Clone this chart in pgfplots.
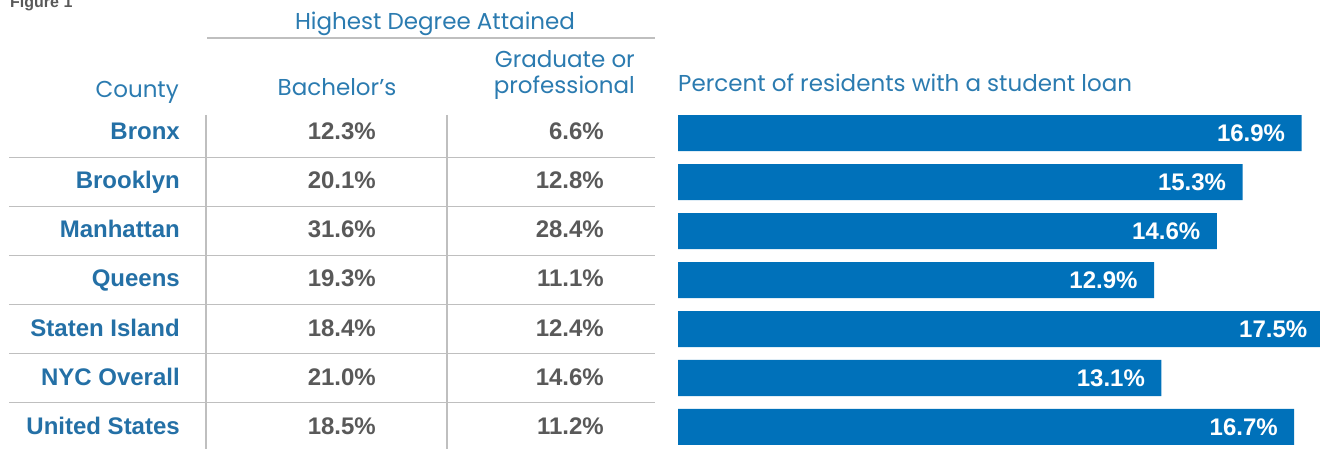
\documentclass[border=0pt]{standalone}
\usepackage{pgfplots}
\pgfplotsset{compat=1.18}
\usepackage{fontspec}
\setmainfont{Liberation Sans}
\newfontfamily\hdr{Poppins}
\definecolor{hblue}{HTML}{2B7BB0}
\definecolor{cblue}{HTML}{2470A6}
\definecolor{barblue}{HTML}{0071BA}
\definecolor{valgray}{HTML}{595959}
\definecolor{linegray}{HTML}{BFBFBF}
\begin{document}
\begin{tikzpicture}
\clip (0pt,0pt) rectangle (1320pt,-449pt);
% table rules
\draw[linegray, line width=1.5pt] (207pt,-38pt) -- (655pt,-38pt);
\foreach \y in {157.5,206.5,255.5,304.5,353.5,402.5}
  \draw[linegray, line width=1.5pt] (9pt,-\y pt) -- (655pt,-\y pt);
\draw[linegray, line width=1.5pt] (206pt,-115pt) -- (206pt,-449pt);
\draw[linegray, line width=1.5pt] (447pt,-115pt) -- (447pt,-449pt);
% headings
\node[anchor=base west, inner sep=0pt, text=valgray, font=\bfseries\fontsize{16}{19}\selectfont] at (10pt,-8pt) {Figure 1};
\node[anchor=base, inner sep=0pt, text=hblue, font=\hdr\fontsize{23}{27}\selectfont] at (435pt,-30pt) {Highest Degree Attained};
\node[anchor=base east, inner sep=0pt, text=hblue, font=\hdr\fontsize{23}{27}\selectfont] at (179pt,-98pt) {County};
\node[anchor=base, inner sep=0pt, text=hblue, font=\hdr\fontsize{23}{27}\selectfont] at (337pt,-96pt) {Bachelor’s};
\node[anchor=base east, inner sep=0pt, text=hblue, font=\hdr\fontsize{23}{27}\selectfont] at (635pt,-68pt) {Graduate or};
\node[anchor=base east, inner sep=0pt, text=hblue, font=\hdr\fontsize{23}{27}\selectfont] at (635pt,-94pt) {professional};
\node[anchor=base west, inner sep=0pt, text=hblue, font=\hdr\fontsize{23}{27}\selectfont] at (678pt,-92pt) {Percent of residents with a student loan};
% table body
\foreach \n/\b/\g [count=\i from 0] in {Bronx/12.3/6.6, Brooklyn/20.1/12.8, Manhattan/31.6/28.4, Queens/19.3/11.1, Staten Island/18.4/12.4, NYC Overall/21.0/14.6, United States/18.5/11.2}{
  \pgfmathsetmacro{\yy}{140+49*\i}
  \node[anchor=base east, inner sep=0pt, text=cblue, font=\bfseries\fontsize{24}{28}\selectfont] at (180pt,-\yy pt) {\n};
  \node[anchor=base east, inner sep=0pt, text=valgray, font=\bfseries\fontsize{24}{28}\selectfont] at (376pt,-\yy pt) {\b\%};
  \node[anchor=base east, inner sep=0pt, text=valgray, font=\bfseries\fontsize{24}{28}\selectfont] at (604pt,-\yy pt) {\g\%};
}
% bar chart
\begin{axis}[
  at={(678pt,-108.5pt)}, anchor=north west,
  scale only axis, width=649.44pt, height=343pt,
  xmin=0, xmax=17.6, ymin=-0.5, ymax=6.5, y dir=reverse,
  hide axis, xbar, bar width=36pt,
  /pgf/number format/assume math mode=true,
  nodes near coords={\pgfmathprintnumber[fixed,fixed zerofill,precision=1]{\pgfplotspointmeta}\%},
  point meta=x,
  every node near coord/.append style={anchor=east, xshift=-13pt, text=white, font=\bfseries\fontsize{24}{28}\selectfont},
]
\addplot[fill=barblue, draw=none] coordinates {(16.9,0) (15.3,1) (14.6,2) (12.9,3) (17.5,4) (13.1,5) (16.7,6)};
\end{axis}
\end{tikzpicture}
\end{document}
